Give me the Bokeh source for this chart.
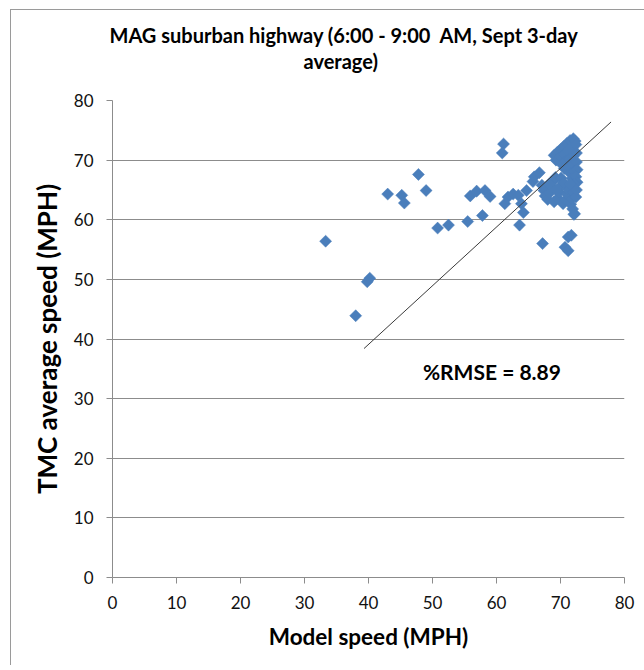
import math
from bokeh.plotting import figure
from bokeh.models import Label, FixedTicker, Range1d, ColumnDataSource, Title
from bokeh.embed import file_html
from bokeh.resources import INLINE

# ---- data -------------------------------------------------------------
model_speed = [
    33.3, 38.0, 39.8, 40.2, 43.0, 45.2, 45.6, 47.8, 49.0, 50.8, 52.5, 55.5,
    55.9, 56.9, 57.8, 58.2, 59.0, 61.1, 60.9, 61.3, 61.8, 62.6, 63.4, 63.9,
    64.2, 63.6, 64.7, 65.7, 65.9, 66.7, 67.2, 71.2, 71.7, 70.7, 71.2, 72.1,
    # upper cluster
    69.0, 69.5, 70.0, 70.5, 71.0, 71.5, 72.0, 72.3, 69.3, 70.0, 70.6, 71.2,
    71.8, 72.4, 70.2, 70.8, 71.4, 72.0, 72.5, 70.6, 71.3, 71.9, 72.5, 71.5,
    72.1, 72.6, 71.8, 72.4, 72.6, 72.2,
    # lower cluster
    67.1, 67.4, 67.6, 68.0, 68.3, 68.6, 68.9, 69.2, 69.0, 69.6, 69.8, 70.0,
    70.1, 70.4, 70.8, 71.0, 71.1, 71.6, 71.8, 72.0, 72.4, 71.9, 72.2, 69.3,
    68.2, 70.5, 71.5, 72.5,
]
tmc_speed = [
    56.4, 43.9, 49.6, 50.2, 64.3, 64.1, 62.8, 67.6, 64.9, 58.6, 59.1, 59.7,
    64.0, 64.8, 60.7, 64.9, 63.9, 72.7, 71.2, 62.7, 63.8, 64.3, 64.1, 62.7,
    61.2, 59.1, 64.9, 66.4, 67.2, 67.9, 56.0, 57.1, 57.4, 55.4, 54.8, 60.9,
    # upper cluster
    70.8, 71.3, 71.8, 72.3, 72.8, 73.3, 73.6, 73.2, 70.0, 70.5, 71.0, 71.6,
    72.2, 72.6, 69.3, 69.8, 70.2, 70.7, 71.2, 68.6, 68.9, 69.3, 69.7, 67.8,
    68.1, 68.4, 66.9, 67.2, 66.3, 66.0,
    # lower cluster
    65.8, 64.9, 64.0, 63.4, 64.5, 65.4, 66.5, 67.1, 63.0, 63.6, 64.6, 65.6,
    67.0, 62.7, 63.3, 64.3, 65.2, 62.6, 63.6, 64.6, 63.8, 61.8, 61.0, 65.0,
    66.0, 66.2, 66.0, 65.0,
]
trend_x = [39.3, 77.9]
trend_y = [38.4, 76.4]
axis_ticks = [0, 10, 20, 30, 40, 50, 60, 70, 80]

title_line1 = "MAG suburban highway (6:00 - 9:00\u00a0 AM, Sept 3-day"
title_line2 = "average)"
x_title = "Model speed (MPH)"
y_title = "TMC average speed (MPH)"
rmse_text = "%RMSE = 8.89"

# ---- figure -----------------------------------------------------------
FONT = "Lato"
GRID = "#8c8c8c"
BLUE = "#4a7ebb"

p = figure(
    output_backend="svg", toolbar_location=None,
    frame_width=512, frame_height=477,
    min_border_left=101, min_border_right=20,
    min_border_top=90, min_border_bottom=88,
    x_range=Range1d(0, 80), y_range=Range1d(0, 80),
    background_fill_color="white", border_fill_color="white",
)
p.outline_line_color = None

for ax in (p.xaxis[0], p.yaxis[0]):
    ax.ticker = FixedTicker(ticks=axis_ticks)
    ax.axis_line_color = GRID
    ax.major_tick_line_color = GRID
    ax.major_tick_out = 6
    ax.major_tick_in = 0
    ax.minor_tick_line_color = None
    ax.major_label_text_font = FONT
    ax.major_label_text_font_size = "17px"
    ax.major_label_text_color = "#111111"
    ax.axis_label_text_font = FONT
    ax.axis_label_text_font_style = "bold"
    ax.axis_label_text_color = "#000000"

p.xaxis.axis_label = x_title
p.xaxis.axis_label_text_font_size = "22.5px"
p.xaxis.major_label_standoff = 12
p.xaxis.axis_label_standoff = 11

p.yaxis.axis_label = y_title
p.yaxis.axis_label_text_font_size = "26px"
p.yaxis.major_label_standoff = 13
p.yaxis.axis_label_standoff = 8

p.xgrid.grid_line_color = None
p.ygrid.grid_line_color = GRID
p.ygrid.ticker = FixedTicker(ticks=axis_ticks)

src = ColumnDataSource(dict(x=model_speed, y=tmc_speed))
p.scatter("x", "y", source=src, marker="square", angle=math.pi / 4,
          size=8.5, fill_color=BLUE, line_color=BLUE, line_width=0.5)

p.line(trend_x, trend_y, line_color="#3a3a3a", line_width=1)

p.add_layout(Label(x=48.5, y=34.5, text=rmse_text, text_font=FONT,
                   text_font_style="bold", text_font_size="21px",
                   text_baseline="middle", text_align="left",
                   text_color="#000000"))

spacer = Title(text=" ", text_font_size="1px", standoff=25)
p.add_layout(spacer, "above")
t2 = Title(text=title_line2, align="left", offset=191, text_font=FONT,
           text_font_style="bold", text_font_size="20px",
           text_color="#000000", standoff=0)
p.add_layout(t2, "above")
t1 = Title(text=title_line1, align="left", offset=-3, text_font=FONT,
           text_font_style="bold", text_font_size="20px",
           text_color="#000000", standoff=0)
p.add_layout(t1, "above")

p.styles = {"border-left": "1px solid #9a9a9a", "border-top": "1px solid #9a9a9a",
            "margin-left": "10px", "margin-top": "9px"}

open("out.html", "w").write(file_html(p, INLINE))
